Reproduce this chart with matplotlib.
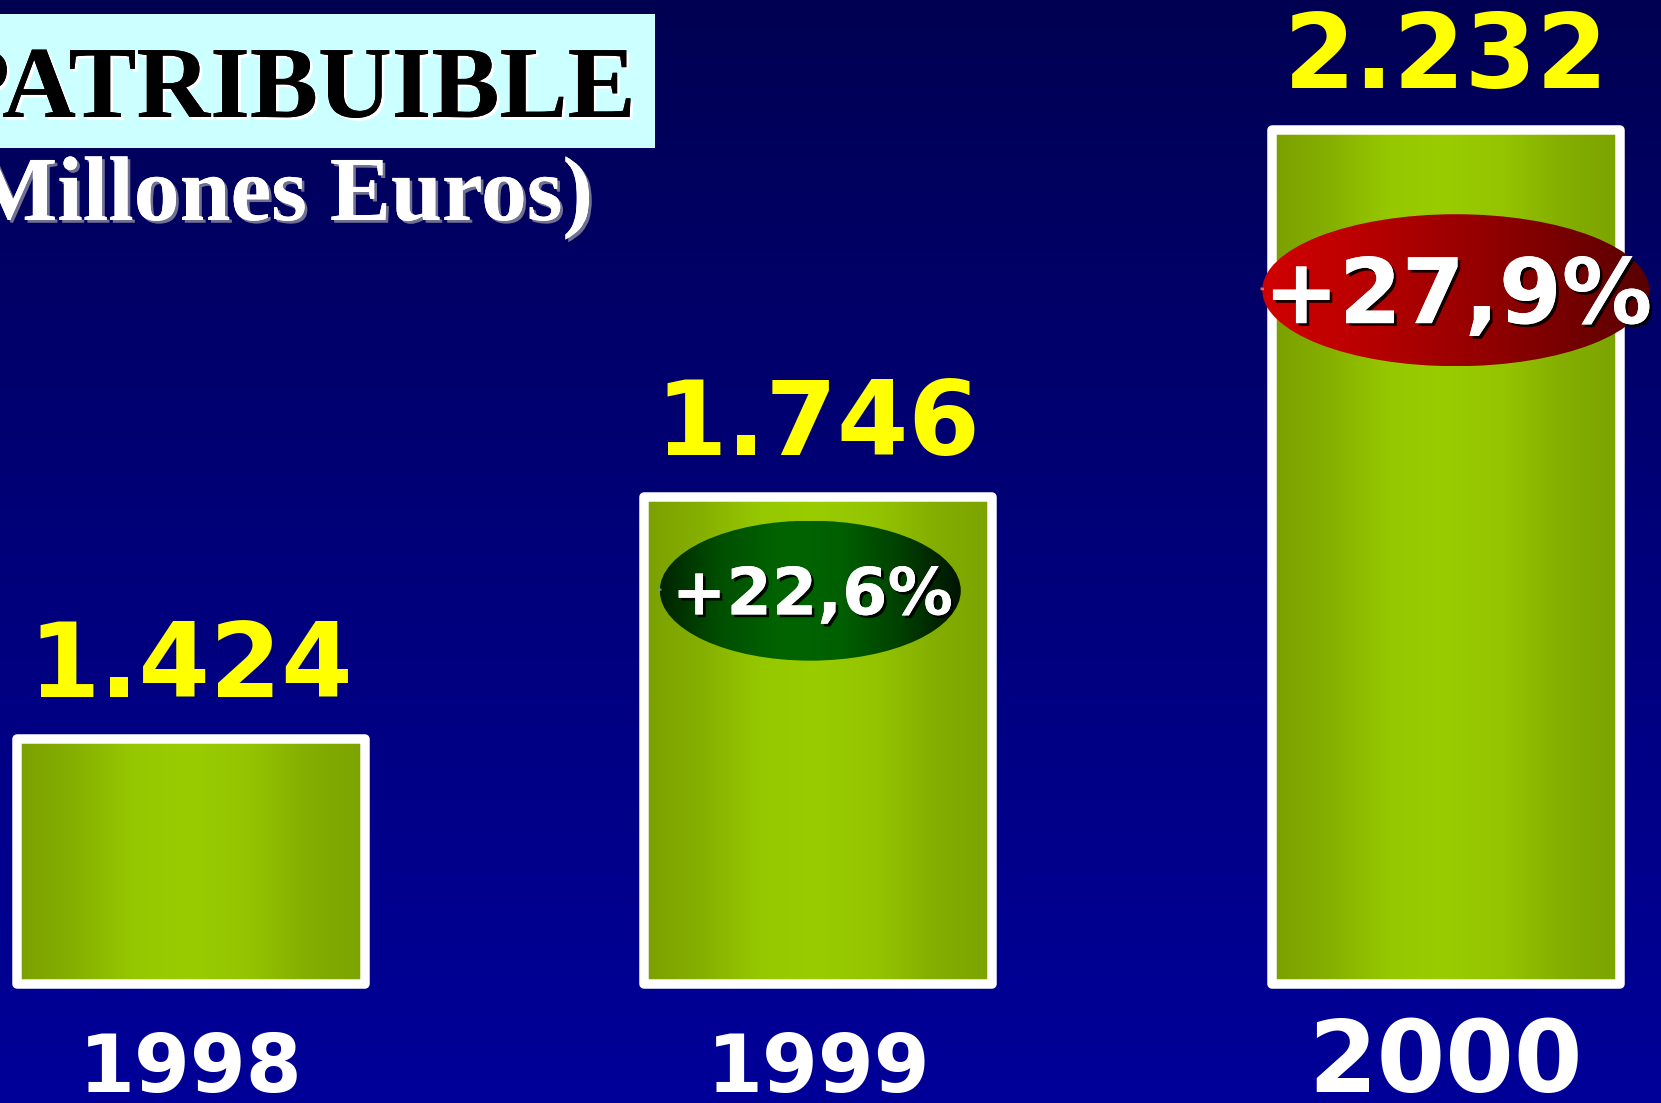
import matplotlib
matplotlib.use("Agg")
import matplotlib.pyplot as plt
import matplotlib.patheffects as pe
from matplotlib.colors import LinearSegmentedColormap
from matplotlib.patches import Ellipse, Arc, Rectangle
import numpy as np

years = ['1998', '1999', '2000']
profit = [1424, 1746, 2232]          # millones de euros
profit_labels = ['1.424', '1.746', '2.232']
growth = ['', '+22,6%', '+27,9%']
floor = 1099                          # value where the bars start

W, H = 1661, 1103
fig = plt.figure(figsize=(W / 100, H / 100), dpi=100)
ax = fig.add_axes([0, 0, 1, 1])
xlim = (-0.304, 2.343)
ylim = (941.8, 2404.7)
ax.set_xlim(*xlim)
ax.set_ylim(*ylim)
ax.set_autoscale_on(False)
ax.axis('off')

# data units per pixel
sx = (xlim[1] - xlim[0]) / W
sy = (ylim[1] - ylim[0]) / H
PT = 0.72  # points per pixel at dpi 100

# background: dark navy on top, blue at the bottom
bg = LinearSegmentedColormap.from_list('bg', ['#000099', '#00007a', '#000052'])
ax.imshow(np.linspace(0, 1, 256).reshape(-1, 1), cmap=bg, origin='lower',
          extent=[*xlim, *ylim], aspect='auto', zorder=0)

# bars with a horizontal green "cylinder" gradient
x = np.arange(len(years))
bars = ax.bar(x, np.array(profit) - floor, bottom=floor, width=0.555,
              facecolor='none', edgecolor='white', linewidth=9.5 * PT,
              joinstyle='round', zorder=3)
green = LinearSegmentedColormap.from_list(
    'g', ['#7aa000', '#86b000', '#96c800', '#99cc00', '#94c400', '#84ae00', '#7ca300'])
for b in bars:
    x0, y0 = b.get_x(), b.get_y()
    im = ax.imshow(np.linspace(0, 1, 256).reshape(1, -1), cmap=green,
                   extent=[x0, x0 + b.get_width(), y0, y0 + b.get_height()],
                   aspect='auto', zorder=2)
    im.set_clip_path(b)

# value labels above bars
for xi, v, lab in zip(x, profit, profit_labels):
    ax.annotate(lab, (xi, v), xytext=(0, 42 * PT), textcoords='offset points',
                ha='center', va='baseline', color='#ffff00', fontsize=74,
                fontweight='bold', family='DejaVu Sans', zorder=6)

# year labels under bars
for i, (xi, yr) in enumerate(zip(x, years)):
    fs = 71 if i == len(years) - 1 else 58
    ax.annotate(yr, (xi, floor), xytext=(0, -108 * PT), textcoords='offset points',
                ha='center', va='baseline', color='white', fontsize=fs,
                fontweight='bold', family='DejaVu Sans', zorder=6)

# growth badges (ellipses)
badge_maps = {
    1: LinearSegmentedColormap.from_list(
        'gb', ['#002400', '#004f00', '#006400', '#006000', '#004000', '#001400']),
    2: LinearSegmentedColormap.from_list(
        'rb', ['#d00000', '#c00000', '#a80000', '#900000', '#740000', '#580000']),
}
badge_edge = {1: '#6aa06a', 2: '#e06a6a'}
badge_shift = {1: (-8, 94), 2: (10, 160)}      # px: dx from bar centre, drop below bar top
badge_size = {1: (301, 140), 2: (387, 152)}    # px
badge_font = {1: 47, 2: 65}
for i, txt in enumerate(growth):
    if not txt:
        continue
    dx, drop = badge_shift[i]
    cx = x[i] + dx * sx
    cy = profit[i] - drop * sy
    w, h = badge_size[i][0] * sx, badge_size[i][1] * sy
    el = Ellipse((cx, cy), w, h, facecolor='none', edgecolor='none', zorder=4)
    ax.add_patch(el)
    im = ax.imshow(np.linspace(0, 1, 256).reshape(1, -1), cmap=badge_maps[i],
                   extent=[cx - w / 2, cx + w / 2, cy - h / 2, cy + h / 2],
                   aspect='auto', zorder=4)
    im.set_clip_path(el)
    ax.add_patch(Arc((cx, cy), w, h, theta1=95, theta2=185, color=badge_edge[i],
                     lw=2.5, zorder=4.5))
    cap = badge_font[i] / PT * 0.729
    ax.annotate(txt, (cx, cy), xytext=(2 * PT, -cap / 2 * PT), textcoords='offset points',
                ha='center', va='baseline', color='white', fontsize=badge_font[i],
                fontweight='bold', family='DejaVu Sans', zorder=7,
                path_effects=[pe.withSimplePatchShadow(offset=(2, -2), shadow_rgbFace='black',
                                                       alpha=0.9), pe.Normal()])

# title box (cut off on the left like the slide)
fig.patches.append(Rectangle((0, 1 - 148 / H), 655 / W, 134 / H, transform=fig.transFigure,
                             facecolor='#ccffff', edgecolor='none', zorder=5))
fig.text(636 / W, 1 - 117 / H, 'PATRIBUIBLE', ha='right', va='baseline',
         family='Liberation Serif', fontweight='bold', fontsize=73.5, color='black', zorder=6,
         path_effects=[pe.withSimplePatchShadow(offset=(2, -2), shadow_rgbFace='white', alpha=1),
                       pe.Normal()])
fig.text(593 / W, 1 - 220 / H, '(Millones Euros)', ha='right', va='baseline',
         family='Liberation Serif', fontweight='bold', fontsize=66, color='white', zorder=6,
         path_effects=[pe.withSimplePatchShadow(offset=(2, -2), shadow_rgbFace='#707090', alpha=1),
                       pe.Normal()])

fig.savefig('out.png', dpi=100)
